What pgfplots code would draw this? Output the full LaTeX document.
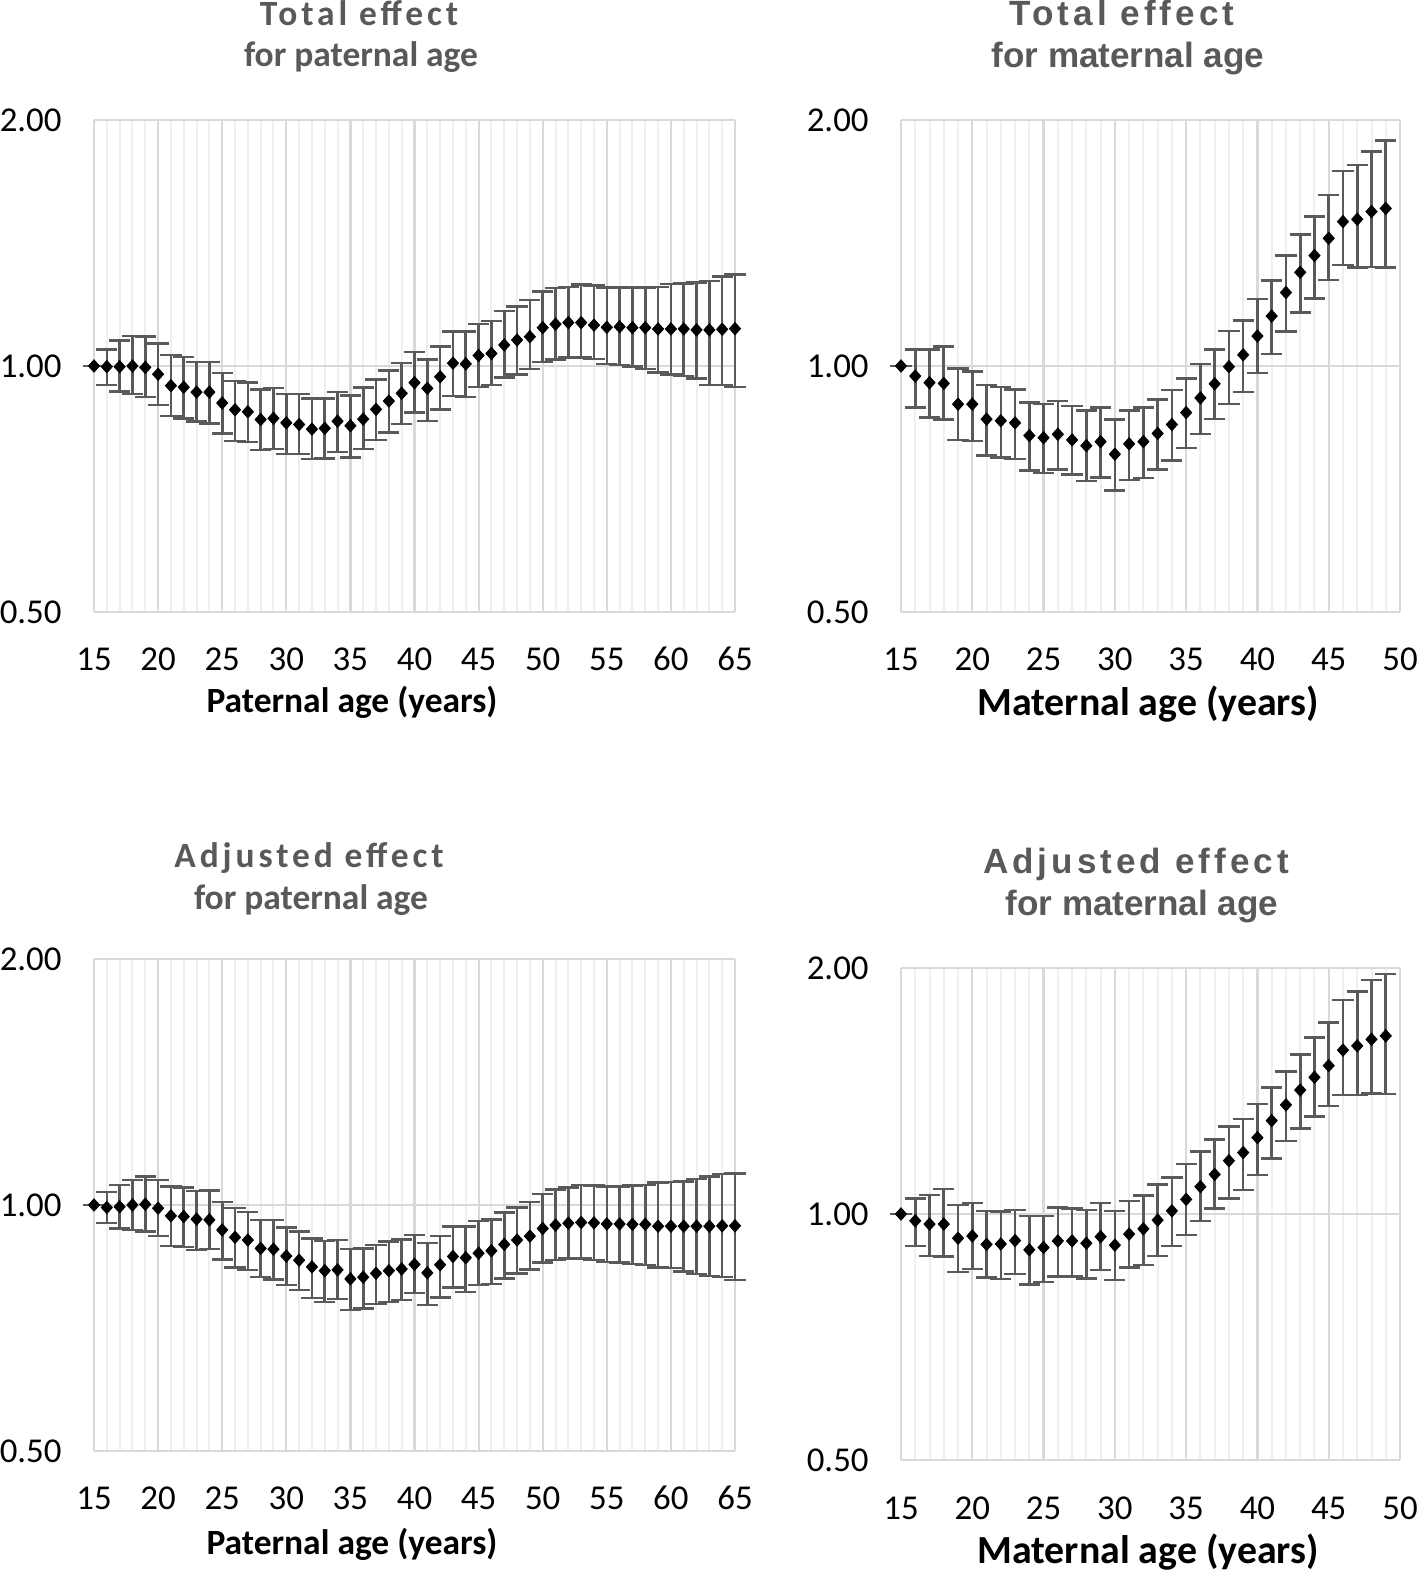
\documentclass[border=0pt]{standalone}
\usepackage{fontspec}
\setmainfont{Carlito}
\newfontfamily\spaced[LetterSpace=11]{Carlito}
\newfontfamily\arial{Liberation Sans}
\newfontfamily\arialsp[LetterSpace=11.5]{Liberation Sans}
\usepackage{pgfplots}
\usepackage{pgfplotstable}
\pgfplotsset{compat=1.18}

\definecolor{ttl}{HTML}{595959}
\definecolor{barc}{HTML}{5A5A5A}
\definecolor{gmaj}{HTML}{D9D9D9}
\definecolor{gmin}{HTML}{EFEFEF}

\pgfplotstableread{
age v lo hi
15 1.000 1.000 1.000
16 0.998 0.948 1.048
17 0.998 0.930 1.074
18 1.000 0.924 1.088
19 0.996 0.916 1.086
20 0.977 0.896 1.066
21 0.946 0.869 1.032
22 0.942 0.863 1.025
23 0.929 0.855 1.012
24 0.929 0.851 1.012
25 0.901 0.827 0.981
26 0.884 0.810 0.959
27 0.879 0.807 0.955
28 0.860 0.789 0.936
29 0.863 0.791 0.940
30 0.852 0.780 0.924
31 0.848 0.780 0.924
32 0.837 0.769 0.913
33 0.839 0.771 0.913
34 0.856 0.785 0.930
35 0.845 0.773 0.920
36 0.861 0.791 0.941
37 0.885 0.812 0.963
38 0.906 0.829 0.987
39 0.926 0.849 1.009
40 0.954 0.877 1.040
41 0.939 0.857 1.019
42 0.970 0.885 1.056
43 1.008 0.919 1.102
44 1.006 0.917 1.102
45 1.030 0.942 1.126
46 1.036 0.948 1.136
47 1.061 0.968 1.168
48 1.076 0.977 1.182
49 1.086 0.992 1.204
50 1.114 1.012 1.233
51 1.125 1.019 1.245
52 1.130 1.024 1.250
53 1.130 1.024 1.259
54 1.122 1.020 1.254
55 1.115 1.005 1.247
56 1.117 1.003 1.247
57 1.114 0.998 1.247
58 1.114 0.992 1.248
59 1.110 0.982 1.250
60 1.110 0.977 1.260
61 1.110 0.972 1.262
62 1.107 0.966 1.265
63 1.107 0.948 1.271
64 1.109 0.948 1.286
65 1.111 0.942 1.295
}\patotal

\pgfplotstableread{
age v lo hi
15 1.000 1.000 1.000
16 0.972 0.890 1.048
17 0.954 0.865 1.048
18 0.952 0.860 1.056
19 0.898 0.812 0.993
20 0.898 0.810 0.984
21 0.861 0.777 0.948
22 0.857 0.773 0.943
23 0.852 0.769 0.936
24 0.822 0.745 0.902
25 0.817 0.740 0.898
26 0.825 0.747 0.906
27 0.812 0.737 0.893
28 0.799 0.723 0.882
29 0.808 0.730 0.890
30 0.780 0.704 0.860
31 0.803 0.725 0.882
32 0.808 0.729 0.890
33 0.827 0.747 0.910
34 0.848 0.766 0.935
35 0.877 0.794 0.966
36 0.914 0.826 1.006
37 0.951 0.861 1.048
38 0.998 0.899 1.104
39 1.032 0.929 1.136
40 1.088 0.980 1.208
41 1.151 1.034 1.272
42 1.230 1.102 1.365
43 1.302 1.163 1.449
44 1.365 1.210 1.523
45 1.433 1.274 1.619
46 1.502 1.329 1.732
47 1.512 1.319 1.762
48 1.545 1.322 1.829
49 1.559 1.320 1.887
}\matotal

\pgfplotstableread{
age v lo hi
15 1.000 1.000 1.000
16 0.993 0.950 1.038
17 0.995 0.936 1.058
18 1.000 0.932 1.073
19 1.002 0.928 1.083
20 0.991 0.916 1.073
21 0.970 0.891 1.053
22 0.968 0.889 1.051
23 0.961 0.881 1.041
24 0.959 0.883 1.041
25 0.932 0.858 1.009
26 0.913 0.839 0.991
27 0.906 0.833 0.981
28 0.885 0.816 0.959
29 0.883 0.811 0.959
30 0.866 0.798 0.939
31 0.856 0.787 0.928
32 0.840 0.770 0.910
33 0.831 0.761 0.904
34 0.833 0.767 0.906
35 0.812 0.744 0.883
36 0.816 0.747 0.885
37 0.825 0.757 0.893
38 0.831 0.761 0.902
39 0.835 0.765 0.908
40 0.846 0.780 0.919
41 0.826 0.755 0.899
42 0.845 0.771 0.916
43 0.865 0.793 0.941
44 0.862 0.783 0.941
45 0.873 0.798 0.956
46 0.879 0.800 0.960
47 0.895 0.813 0.979
48 0.906 0.825 0.993
49 0.916 0.834 1.008
50 0.936 0.851 1.032
51 0.945 0.856 1.045
52 0.950 0.860 1.051
53 0.952 0.860 1.058
54 0.951 0.856 1.056
55 0.948 0.852 1.053
56 0.948 0.850 1.053
57 0.947 0.847 1.056
58 0.947 0.845 1.058
59 0.942 0.839 1.065
60 0.942 0.837 1.067
61 0.942 0.829 1.068
62 0.942 0.823 1.076
63 0.942 0.819 1.083
64 0.943 0.816 1.091
65 0.943 0.810 1.093
}\paadj

\pgfplotstableread{
age v lo hi
15 1.000 1.000 1.000
16 0.981 0.914 1.045
17 0.972 0.888 1.055
18 0.972 0.887 1.073
19 0.934 0.849 1.026
20 0.940 0.857 1.032
21 0.918 0.836 1.008
22 0.919 0.833 1.007
23 0.928 0.845 1.011
24 0.904 0.820 0.995
25 0.910 0.826 0.995
26 0.927 0.839 1.019
27 0.927 0.839 1.016
28 0.921 0.834 1.011
29 0.938 0.854 1.031
30 0.916 0.830 1.008
31 0.945 0.860 1.038
32 0.959 0.866 1.053
33 0.983 0.888 1.087
34 1.009 0.914 1.109
35 1.042 0.943 1.151
36 1.080 0.981 1.192
37 1.118 1.016 1.234
38 1.162 1.045 1.279
39 1.189 1.070 1.307
40 1.240 1.116 1.363
41 1.301 1.170 1.429
42 1.360 1.228 1.493
43 1.418 1.273 1.568
44 1.470 1.316 1.644
45 1.519 1.356 1.716
46 1.587 1.398 1.827
47 1.606 1.398 1.871
48 1.636 1.405 1.934
49 1.652 1.403 1.967
}\maadj

% The y axis is logarithmic (base 2): values are plotted as log2(value),
% with ticks at -1, 0, 1 labelled 0.50, 1.00, 2.00.
\pgfplotsset{
  effax/.style={
    scale only axis, height=246bp,
    ymin=-1, ymax=1,
    ytick={-1,0,1}, yticklabels={0.50,1.00,2.00},
    xmajorgrids, ymajorgrids, xminorgrids,
    minor x tick num=4,
    major grid style={gmaj, line width=1.1bp},
    minor grid style={gmin, line width=1bp},
    axis line style={draw=none},
    major tick length=0pt, minor tick length=0pt,
    tick label style={font=\fontsize{17.5}{20}\selectfont, inner sep=0pt},
    xticklabel style={anchor=base, yshift=-29.5bp},
    yticklabel style={anchor=east, xshift=-16bp},
    clip=false,
  },
  effplot/.style={
    only marks, mark=diamond*, mark size=3.1bp,
    mark options={black, fill=black, xscale=1.2},
    error bars/y dir=both, error bars/y explicit,
    error bars/error mark=-,
    error bars/error bar style={barc, line width=1.3bp},
    error bars/error mark options={barc, line width=1.25bp, mark size=5.3bp, rotate=90},
  },
}

\begin{document}
\begin{tikzpicture}
\path[use as bounding box] (0,0) rectangle (709bp,785bp);

% Top left
\begin{axis}[effax, at={(47bp,479bp)}, anchor=south west, width=320.5bp,
  xmin=15, xmax=65, xtick={15,20,...,65},
  xticklabels={15,20,25,30,35,40,45,50,55,60,65}]
\addplot+[effplot] table[x=age, y expr={ln(\thisrow{v})/ln(2)},
    y error plus expr={ln(\thisrow{hi}/\thisrow{v})/ln(2)},
    y error minus expr={ln(\thisrow{v}/\thisrow{lo})/ln(2)}] {\patotal};
\end{axis}

% Top right
\begin{axis}[effax, at={(450.5bp,479bp)}, anchor=south west, width=249.5bp,
  xmin=15, xmax=50, xtick={15,20,...,50},
  xticklabels={15,20,25,30,35,40,45,50}]
\addplot+[effplot] table[x=age, y expr={ln(\thisrow{v})/ln(2)},
    y error plus expr={ln(\thisrow{hi}/\thisrow{v})/ln(2)},
    y error minus expr={ln(\thisrow{v}/\thisrow{lo})/ln(2)}] {\matotal};
\end{axis}

% Bottom left
\begin{axis}[effax, at={(47bp,59.5bp)}, anchor=south west, width=320.5bp,
  xmin=15, xmax=65, xtick={15,20,...,65},
  xticklabels={15,20,25,30,35,40,45,50,55,60,65}]
\addplot+[effplot] table[x=age, y expr={ln(\thisrow{v})/ln(2)},
    y error plus expr={ln(\thisrow{hi}/\thisrow{v})/ln(2)},
    y error minus expr={ln(\thisrow{v}/\thisrow{lo})/ln(2)}] {\paadj};
\end{axis}

% Bottom right
\begin{axis}[effax, at={(450.5bp,55bp)}, anchor=south west, width=249.5bp,
  xmin=15, xmax=50, xtick={15,20,...,50},
  xticklabels={15,20,25,30,35,40,45,50}]
\addplot+[effplot] table[x=age, y expr={ln(\thisrow{v})/ln(2)},
    y error plus expr={ln(\thisrow{hi}/\thisrow{v})/ln(2)},
    y error minus expr={ln(\thisrow{v}/\thisrow{lo})/ln(2)}] {\maadj};
\end{axis}

% Titles
\node[anchor=base, text=ttl, inner sep=0pt] at (179.5bp,772bp) {\spaced\bfseries\fontsize{17.8}{20}\selectfont Total effect};
\node[anchor=base, text=ttl, inner sep=0pt] at (180.5bp,751.5bp) {\bfseries\fontsize{17.8}{20}\selectfont for paternal age};
\node[anchor=base, text=ttl, inner sep=0pt] at (561bp,772bp) {\arialsp\bfseries\fontsize{17.6}{20}\selectfont Total effect};
\node[anchor=base, text=ttl, inner sep=0pt] at (564bp,751bp) {\arial\bfseries\fontsize{17.6}{20}\selectfont for maternal age};
\node[anchor=base, text=ttl, inner sep=0pt] at (154.5bp,351bp) {\spaced\bfseries\fontsize{17.8}{20}\selectfont Adjusted effect};
\node[anchor=base, text=ttl, inner sep=0pt] at (155.5bp,330bp) {\bfseries\fontsize{17.8}{20}\selectfont for paternal age};
\node[anchor=base, text=ttl, inner sep=0pt] at (568bp,348bp) {\arialsp\bfseries\fontsize{17.6}{20}\selectfont Adjusted effect};
\node[anchor=base, text=ttl, inner sep=0pt] at (571bp,327bp) {\arial\bfseries\fontsize{17.6}{20}\selectfont for maternal age};

% Axis labels
\node[anchor=base, inner sep=0pt] at (176bp,428.5bp) {\bfseries\fontsize{17.8}{20}\selectfont Paternal age (years)};
\node[anchor=base, inner sep=0pt] at (574bp,427bp) {\bfseries\fontsize{20}{22}\selectfont Maternal age (years)};
\node[anchor=base, inner sep=0pt] at (176bp,8bp) {\bfseries\fontsize{17.8}{20}\selectfont Paternal age (years)};
\node[anchor=base, inner sep=0pt] at (574bp,3.5bp) {\bfseries\fontsize{20}{22}\selectfont Maternal age (years)};
\end{tikzpicture}
\end{document}
